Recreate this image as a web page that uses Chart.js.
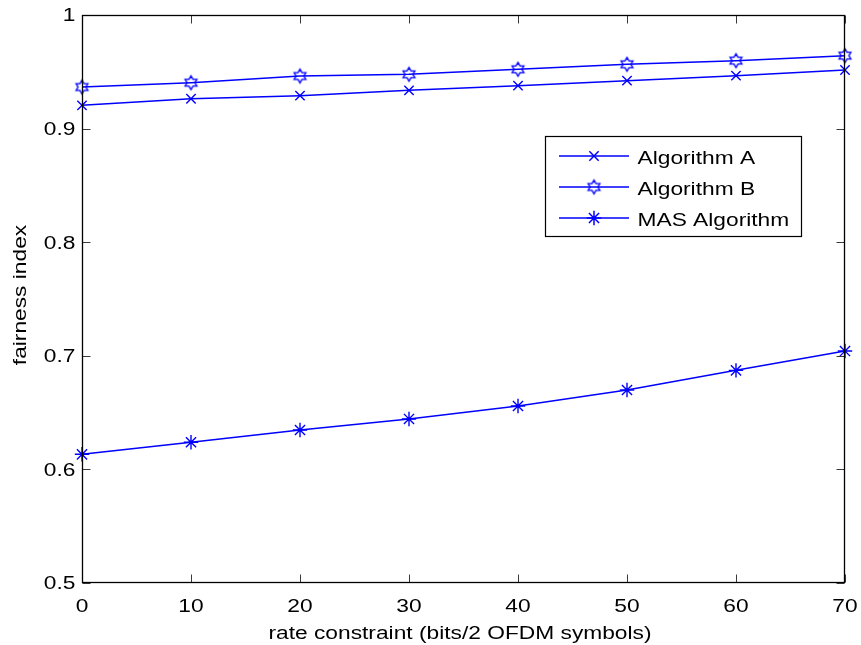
<!DOCTYPE html>
<html>
<head>
<meta charset="utf-8">
<title>fairness index vs rate constraint</title>
<script src="https://cdn.jsdelivr.net/npm/chart.js@4.4.1/dist/chart.umd.min.js"></script>
<style>
  html, body { margin: 0; padding: 0; background: #ffffff; }
  #wrap { width: 861px; height: 645px; position: relative; }
</style>
</head>
<body>
<div id="wrap"><canvas id="chart" width="861" height="645"></canvas></div>
<script>
// rate constraint (bits / 2 OFDM symbols)
const rateConstraint = [0, 10, 20, 30, 40, 50, 60, 70];

// fairness index of each scheme
const algorithmA   = [0.9205, 0.9263, 0.9290, 0.9337, 0.9378, 0.9422, 0.9466, 0.9516];
const algorithmB   = [0.9366, 0.9404, 0.9463, 0.9478, 0.9522, 0.9566, 0.9598, 0.9642];
const masAlgorithm = [0.6133, 0.6239, 0.6347, 0.6444, 0.6558, 0.6699, 0.6872, 0.7042];

const seriesNames = ['Algorithm A', 'Algorithm B', 'MAS Algorithm'];

// axis ticks and their labels
const xTickValues = [0, 10, 20, 30, 40, 50, 60, 70];
const xTickLabels = ['0', '10', '20', '30', '40', '50', '60', '70'];
const yTickValues = [0.5, 0.6, 0.7, 0.8, 0.9, 1.0];
const yTickLabels = ['0.5', '0.6', '0.7', '0.8', '0.9', '1'];

const xTitle = 'rate constraint (bits/2 OFDM symbols)';
const yTitle = 'fairness index';

const BLUE = '#0000ff';
const FONT = '"Liberation Sans", Arial, Helvetica, sans-serif';
const STRETCH = 1.3;   // wide glyphs along the writing direction

// six-pointed outline marker
function makeHexagram(outer, lineWidth) {
  const size = Math.ceil(outer * 2 + lineWidth * 2 + 2);
  const c = document.createElement('canvas');
  c.width = size; c.height = size;
  const g = c.getContext('2d');
  const cx = size / 2, cy = size / 2;
  const inner = outer / Math.sqrt(3);
  g.beginPath();
  for (let i = 0; i < 12; i++) {
    const ang = -Math.PI / 2 + i * Math.PI / 6;
    const r = (i % 2 === 0) ? outer : inner;
    const px = cx + r * Math.cos(ang), py = cy + r * Math.sin(ang);
    if (i === 0) g.moveTo(px, py); else g.lineTo(px, py);
  }
  g.closePath();
  g.strokeStyle = BLUE;
  g.lineWidth = lineWidth;
  g.lineJoin = 'miter';
  g.stroke();
  return c;
}
const hexagram = makeHexagram(6.8, 1.35);

function pairs(ys) {
  return rateConstraint.map((x, i) => ({ x: x, y: ys[i] }));
}

function stretchedText(ctx, str, x, y, align, baseline, rotate, size, stretch) {
  ctx.save();
  ctx.translate(x, y);
  if (rotate) ctx.rotate(rotate);
  ctx.scale(stretch || STRETCH, 1);
  ctx.font = (size || 17.5) + 'px ' + FONT;
  ctx.fillStyle = '#000000';
  ctx.textAlign = align;
  ctx.textBaseline = baseline;
  ctx.fillText(str, 0, 0);
  ctx.restore();
}

// box frame, inward ticks on all four sides, tick labels and axis titles
const axesPlugin = {
  id: 'boxAxes',
  afterDatasetsDraw(chart) {
    const ctx = chart.ctx;
    const a = chart.chartArea;
    const xs = chart.scales.x, ys = chart.scales.y;
    const L = a.left + 0.5, R = a.right - 0.5, T = a.top + 0.5, B = a.bottom - 0.5;
    const tick = 8;

    ctx.save();
    ctx.strokeStyle = '#3a3a3a';
    ctx.lineWidth = 1;
    ctx.beginPath();
    xs.ticks.forEach(t => {
      const px = Math.round(xs.getPixelForValue(t.value)) + 0.5;
      ctx.moveTo(px, B); ctx.lineTo(px, B - tick);
      ctx.moveTo(px, T); ctx.lineTo(px, T + tick);
    });
    ys.ticks.forEach(t => {
      const py = Math.round(ys.getPixelForValue(t.value)) + 0.5;
      ctx.moveTo(L, py); ctx.lineTo(L + tick, py);
      ctx.moveTo(R, py); ctx.lineTo(R - tick, py);
    });
    ctx.stroke();

    ctx.strokeStyle = '#000000';
    ctx.lineWidth = 1.3;
    ctx.strokeRect(L, T, R - L, B - T);
    ctx.restore();

    xs.ticks.forEach((t, i) => {
      const px = xs.getPixelForValue(t.value);
      stretchedText(ctx, xTickLabels[i], px, a.bottom + 29, 'center', 'alphabetic');
    });
    ys.ticks.forEach((t, i) => {
      const py = ys.getPixelForValue(t.value);
      stretchedText(ctx, yTickLabels[i], a.left - 6.5, py + 6.4, 'right', 'alphabetic');
    });

    stretchedText(ctx, xTitle, 460, 639, 'center', 'alphabetic');
    stretchedText(ctx, yTitle, 26, 295, 'center', 'alphabetic', -Math.PI / 2, 17.5, 1.3);
  }
};

// legend box inside the plot area
const legendPlugin = {
  id: 'boxLegend',
  afterDraw(chart) {
    const ctx = chart.ctx;
    const box = { x: 545.5, y: 136.5, w: 256, h: 100 };
    ctx.save();
    ctx.fillStyle = '#ffffff';
    ctx.fillRect(box.x, box.y, box.w, box.h);
    ctx.strokeStyle = '#000000';
    ctx.lineWidth = 1.2;
    ctx.strokeRect(box.x, box.y, box.w, box.h);

    const rows = [156, 187, 218];
    chart.data.datasets.forEach((ds, i) => {
      const y = rows[i];
      ctx.strokeStyle = ds.borderColor;
      ctx.lineWidth = ds.borderWidth;
      ctx.beginPath();
      ctx.moveTo(559, y); ctx.lineTo(629, y);
      ctx.stroke();
      Chart.helpers.drawPoint(ctx, {
        pointStyle: ds.pointStyle,
        radius: ds.pointRadius,
        borderWidth: ds.pointBorderWidth,
        rotation: 0
      }, 594, y);
      ctx.strokeStyle = ds.borderColor;
      ctx.fillStyle = ds.borderColor;
      stretchedText(ctx, ds.label, 637.5, y + 8, 'left', 'alphabetic');
    });
    ctx.restore();
  }
};

const common = {
  borderColor: BLUE,
  backgroundColor: BLUE,
  pointBorderColor: BLUE,
  pointBackgroundColor: BLUE,
  borderWidth: 1.5,
  pointBorderWidth: 1.4,
  tension: 0,
  fill: false,
  clip: false
};

new Chart(document.getElementById('chart'), {
  type: 'line',
  data: {
    datasets: [
      Object.assign({ label: seriesNames[0], data: pairs(algorithmA), pointStyle: 'crossRot', pointRadius: 6.6 }, common),
      Object.assign({ label: seriesNames[1], data: pairs(algorithmB), pointStyle: hexagram, pointRadius: 7 }, common),
      Object.assign({ label: seriesNames[2], data: pairs(masAlgorithm), pointStyle: 'star', pointRadius: 7.2 }, common)
    ]
  },
  options: {
    responsive: false,
    animation: false,
    events: [],
    layout: { padding: { left: 0, top: 15, right: 16, bottom: 0 } },
    plugins: { legend: { display: false }, tooltip: { enabled: false }, title: { display: false } },
    scales: {
      x: {
        type: 'linear', min: 0, max: 70,
        grid: { display: false }, border: { display: false },
        ticks: { display: false },
        afterBuildTicks(scale) { scale.ticks = xTickValues.map(v => ({ value: v })); },
        afterFit(scale) { scale.height = 62; }
      },
      y: {
        type: 'linear', min: 0.5, max: 1,
        grid: { display: false }, border: { display: false },
        ticks: { display: false },
        afterBuildTicks(scale) { scale.ticks = yTickValues.map(v => ({ value: v })); },
        afterFit(scale) { scale.width = 82; }
      }
    }
  },
  plugins: [axesPlugin, legendPlugin]
});
</script>
</body>
</html>
